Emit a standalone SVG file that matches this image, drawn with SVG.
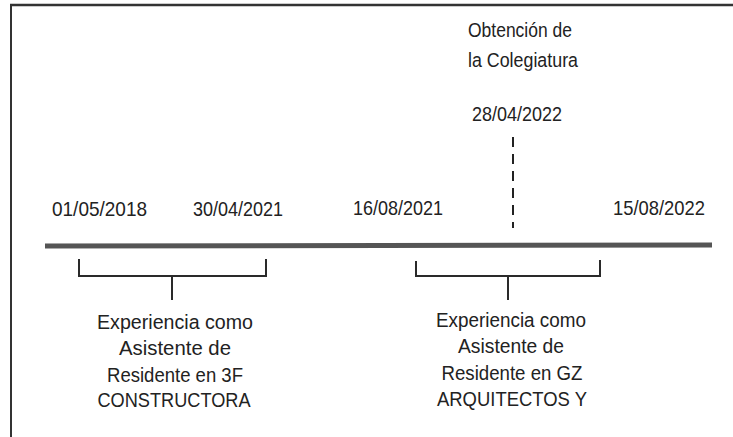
<svg xmlns="http://www.w3.org/2000/svg" width="733" height="437" viewBox="0 0 733 437">
<style>
.t{font-family:"Liberation Sans",Arial,sans-serif;fill:#222;}
.d{font-size:21px;}
.l{font-size:20.5px;}
.br{fill:none;stroke:#2a2a2a;stroke-width:2;}
</style>
<rect width="733" height="437" fill="#fff"/>
<g id="frame">
<line x1="10" y1="5" x2="733" y2="5" stroke="#333" stroke-width="2.5"/>
<line x1="11" y1="4" x2="11" y2="437" stroke="#333" stroke-width="2"/>
</g>
<g id="timeline">
<line x1="45" y1="246" x2="712" y2="245" stroke="#555" stroke-width="5"/>
</g>
<g id="connectors">
<path class="br" d="M79 259 V276 H266 V259"/>
<line class="br" x1="172" y1="276" x2="172" y2="300"/>
<path class="br" d="M416 261 V276 H600 V260"/>
<line class="br" x1="508" y1="276" x2="508" y2="300"/>
<line x1="513" y1="137" x2="513" y2="228" stroke="#222" stroke-width="2" stroke-dasharray="10 7"/>
</g>
<g id="date1"><text class="t d" x="52" y="216" textLength="95" lengthAdjust="spacingAndGlyphs">01/05/2018</text></g>
<g id="date2"><text class="t d" x="193" y="216" textLength="90" lengthAdjust="spacingAndGlyphs">30/04/2021</text></g>
<g id="date3"><text class="t d" x="353" y="215" textLength="90" lengthAdjust="spacingAndGlyphs">16/08/2021</text></g>
<g id="date4"><text class="t d" x="613" y="215" textLength="92" lengthAdjust="spacingAndGlyphs">15/08/2022</text></g>
<g id="date5"><text class="t d" x="472" y="121" textLength="90" lengthAdjust="spacingAndGlyphs">28/04/2022</text></g>
<g id="colegiatura">
<text class="t l" x="468" y="37" textLength="104" lengthAdjust="spacingAndGlyphs">Obtención de</text>
<text class="t l" x="468" y="67" textLength="110" lengthAdjust="spacingAndGlyphs">la Colegiatura</text>
</g>
<g id="exp1" class="t l" text-anchor="middle">
<text x="175" y="329" textLength="156" lengthAdjust="spacingAndGlyphs">Experiencia como</text>
<text x="175" y="355" textLength="112" lengthAdjust="spacingAndGlyphs">Asistente de</text>
<text x="175" y="382" textLength="136" lengthAdjust="spacingAndGlyphs">Residente en 3F</text>
<text x="174" y="407" textLength="153" lengthAdjust="spacingAndGlyphs">CONSTRUCTORA</text>
</g>
<g id="exp2" class="t l" text-anchor="middle">
<text x="511" y="327" textLength="150" lengthAdjust="spacingAndGlyphs">Experiencia como</text>
<text x="511" y="353" textLength="106" lengthAdjust="spacingAndGlyphs">Asistente de</text>
<text x="512" y="380" textLength="141" lengthAdjust="spacingAndGlyphs">Residente en GZ</text>
<text x="512" y="406" textLength="150" lengthAdjust="spacingAndGlyphs">ARQUITECTOS Y</text>
</g>
</svg>
